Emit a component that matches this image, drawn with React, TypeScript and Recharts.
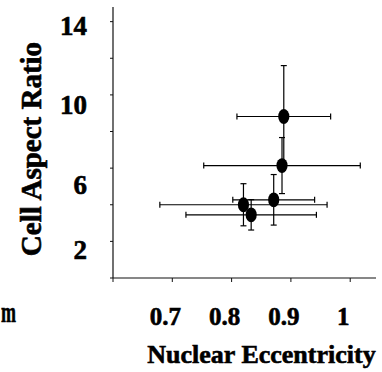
import React from 'react';
import { ScatterChart, Scatter, XAxis, YAxis, ErrorBar, Label } from 'recharts';

const eccentricity = [0.888, 0.885, 0.871, 0.82, 0.833];
const aspectRatio = [8.82, 6.14, 4.27, 4.0, 3.45];
const eccentricityErr = [0.079, 0.132, 0.069, 0.141, 0.11];
const aspectRatioErr = [2.78, 1.53, 1.38, 1.15, 0.83];

const xTicks = [0.6, 0.7, 0.8, 0.9, 1.0];
const xLabelled = [0.7, 0.8, 0.9, 1.0];
const yTicks = [0, 2, 4, 6, 8, 10, 12, 14];
const yLabelled = [2, 6, 10, 14];

const points = eccentricity.map((x, i) => ({
  x,
  y: aspectRatio[i],
  ex: eccentricityErr[i],
  ey: aspectRatioErr[i],
}));

const FONT = '"Liberation Serif", "Times New Roman", serif';
// scanned text is heavier than plain bold
const heavy = { fontFamily: FONT, fontWeight: 'bold', fill: '#000', stroke: '#000', strokeWidth: 0.6 };

// the scanned labels sit a little below their ticks, not evenly
const yNudge: Record<number, number> = { 2: 9, 6: 17, 10: 10.5, 14: 4 };

function YTick(props: any) {
  const { y, payload } = props;
  if (!yLabelled.includes(payload.value)) return <g />;
  return (
    <text x={87} y={y + (yNudge[payload.value] ?? 8) + 9} textAnchor="end" fontSize={27} {...heavy}>
      {payload.value}
    </text>
  );
}

function XTick(props: any) {
  const { x, payload } = props;
  if (!xLabelled.some((v) => Math.abs(v - payload.value) < 1e-6)) return <g />;
  const txt = payload.value === 1 ? '1' : payload.value.toFixed(1);
  return (
    <text x={x - 7} y={324.5} textAnchor="middle" fontSize={25} {...heavy}>
      {txt}
    </text>
  );
}

function Dot(props: any) {
  const { cx, cy } = props;
  return <ellipse cx={cx} cy={cy} rx={5.6} ry={7.4} fill="#000" />;
}

export default function App() {
  return (
    <div style={{ position: 'absolute', left: 0, top: 0, background: '#fff' }}>
      <ScatterChart width={382} height={372} margin={{ top: 7, right: 6, left: 0, bottom: 0 }}>
        <XAxis
          type="number"
          dataKey="x"
          domain={[0.6, 1.0435]}
          ticks={xTicks}
          allowDataOverflow
          height={94}
          tickSize={4}
          axisLine={{ stroke: '#111', strokeWidth: 1.2 }}
          tickLine={{ stroke: '#111' }}
          tick={<XTick />}
        >
          <Label
            content={() => (
              <g>
                <text x={261.5} y={363} textAnchor="middle" fontSize={26} {...heavy}>
                  Nuclear Eccentricity
                </text>
                <text x={0} y={322} textAnchor="start" fontSize={30} {...heavy}
                  transform="translate(1 0) scale(0.6 1)">
                  m
                </text>
              </g>
            )}
          />
        </XAxis>
        <YAxis
          type="number"
          dataKey="y"
          domain={[0, 14.8]}
          ticks={yTicks}
          allowDataOverflow
          width={113}
          tickSize={3}
          axisLine={{ stroke: '#111', strokeWidth: 1.2 }}
          tickLine={{ stroke: '#111' }}
          tick={<YTick />}
        >
          <Label
            content={() => (
              <text x={41} y={149} transform="rotate(-90 41 149)" textAnchor="middle" fontSize={29} {...heavy}>
                Cell Aspect Ratio
              </text>
            )}
          />
        </YAxis>
        <Scatter data={points} shape={<Dot />} isAnimationActive={false}>
          <ErrorBar dataKey="ex" direction="x" width={3} stroke="#000" strokeWidth={1.2} />
          <ErrorBar dataKey="ey" direction="y" width={3} stroke="#000" strokeWidth={1.2} />
        </Scatter>
      </ScatterChart>
    </div>
  );
}
